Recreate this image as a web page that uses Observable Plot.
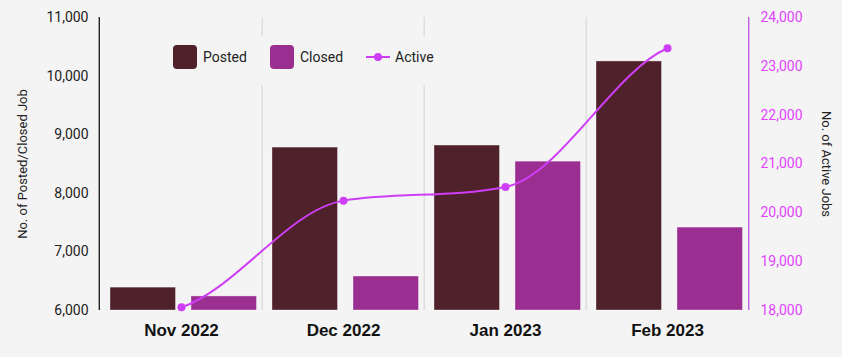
<!DOCTYPE html>
<html>
<head>
<meta charset="utf-8">
<script src="https://cdn.jsdelivr.net/npm/d3@7"></script>
<script src="https://cdn.jsdelivr.net/npm/@observablehq/plot@0.6"></script>
<style>
  html, body { margin: 0; padding: 0; background: #f4f4f4; }
  #wrap { position: relative; width: 842px; height: 357px; background: #f4f4f4; font-family: Roboto, "Liberation Sans", sans-serif; }
  #legend { position: absolute; left: 160px; top: 36px; width: 285px; height: 49px; background: #f4f4f4; }
  .item { position: absolute; top: 9px; height: 24px; display: flex; align-items: center; font-size: 14px; color: #222; }
  .sw { width: 24px; height: 24px; border-radius: 4px; margin-right: 6px; }
</style>
</head>
<body>
<div id="wrap"></div>
<script>
const months = ["Nov 2022", "Dec 2022", "Jan 2023", "Feb 2023"];
const posted = [6390, 8780, 8815, 10250];
const closed = [6240, 6580, 8540, 7415];
const active = [18065, 20250, 20530, 23370];
const leftTicks = [6000, 7000, 8000, 9000, 10000, 11000];
const rightTicks = [18000, 19000, 20000, 21000, 22000, 23000, 24000];

const colPosted = "#4f212a";
const colClosed = "#9b2f91";
const colActive = "#cf3ef7";
const colRightTick = "#df44fb";

const W = 842, H = 357;
const mL = 99, mR = 93, mT = 17, mB = 47;
const bw = (W - mL - mR) / months.length;

const yMin = leftTicks[0], yMax = leftTicks[leftTicks.length - 1];
const rMin = rightTicks[0], rMax = rightTicks[rightTicks.length - 1];
const toLeft = v => yMin + (v - rMin) * (yMax - yMin) / (rMax - rMin);

const data = months.map((m, i) => ({month: m, posted: posted[i], closed: closed[i], active: toLeft(active[i])}));
const fmt = d3.format(",");

// Monotone cubic curve (Fritsch–Carlson) with softened endpoint tangents
function monotoneCurve(context) {
  let pts = [];
  return {
    areaStart() {}, areaEnd() {},
    lineStart() { pts = []; },
    point(x, y) { pts.push([+x, +y]); },
    lineEnd() {
      const n = pts.length;
      if (!n) return;
      context.moveTo(pts[0][0], pts[0][1]);
      if (n === 1) return;
      const d = [], m = new Array(n);
      for (let i = 0; i < n - 1; i++) d.push((pts[i + 1][1] - pts[i][1]) / (pts[i + 1][0] - pts[i][0]));
      m[0] = 0.5 * d[0]; m[n - 1] = 0.5 * d[n - 2];
      for (let i = 1; i < n - 1; i++) m[i] = (d[i - 1] * d[i] <= 0) ? 0 : (d[i - 1] + d[i]) / 2;
      for (let i = 0; i < n - 1; i++) {
        if (Math.abs(d[i]) < 1e-9) { m[i] = 0; m[i + 1] = 0; continue; }
        const a = m[i] / d[i], b = m[i + 1] / d[i], s = a * a + b * b;
        if (s > 9) { const t = 3 / Math.sqrt(s); m[i] = t * a * d[i]; m[i + 1] = t * b * d[i]; }
      }
      for (let i = 0; i < n - 1; i++) {
        const [x0, y0] = pts[i], [x1, y1] = pts[i + 1], h = (x1 - x0) / 3;
        context.bezierCurveTo(x0 + h, y0 + h * m[i], x1 - h, y1 - h * m[i + 1], x1, y1);
      }
    }
  };
}

const chart = Plot.plot({
  width: W, height: H,
  marginLeft: mL, marginRight: mR, marginTop: mT, marginBottom: mB,
  style: {background: "#f4f4f4", fontFamily: "Roboto, 'Liberation Sans', sans-serif", overflow: "visible"},
  x: {type: "band", domain: months, padding: 0},
  y: {domain: [yMin, yMax]},
  marks: [
    Plot.ruleX(months.slice(1), {x: d => d, dx: -bw / 2, stroke: "#dedede", strokeWidth: 1.5}),
    Plot.barY(data, {x: "month", y1: () => yMin, y2: "posted", fill: colPosted, stroke: "#ffffff", strokeOpacity: 0.35, insetLeft: 10, insetRight: bw - 76}),
    Plot.barY(data, {x: "month", y1: () => yMin, y2: "closed", fill: colClosed, stroke: "#ffffff", strokeOpacity: 0.35, insetLeft: 91, insetRight: bw - 157}),
    Plot.ruleX([months[0]], {x: d => d, dx: -bw / 2 - 1, stroke: "#000", strokeWidth: 1.2}),
    Plot.ruleX([months[months.length - 1]], {x: d => d, dx: bw / 2, stroke: "#b845e0", strokeWidth: 1.2}),
    Plot.line(data, {x: "month", y: "active", stroke: colActive, strokeWidth: 2, curve: monotoneCurve}),
    Plot.dot(data, {x: "month", y: "active", r: 4, fill: colActive, stroke: "none"}),
    Plot.axisY({ticks: leftTicks, tickSize: 0, tickPadding: 11, tickFormat: fmt, fontSize: 14, fill: "#222", label: null}),
    Plot.text(rightTicks, {y: d => toLeft(d), text: d => fmt(d), frameAnchor: "right", dx: 11, textAnchor: "start", fill: colRightTick, fontSize: 14}),
    Plot.axisX({tickSize: 0, tickPadding: 13, fontSize: 17, fontWeight: "bold", fontFamily: "'Liberation Sans', Arial, sans-serif", fill: "#111", label: null}),
    Plot.text(["No. of Posted/Closed Job"], {frameAnchor: "left", dx: -77, rotate: -90, fontSize: 13, fill: "#222", textAnchor: "middle"}),
    Plot.text(["No. of Active Jobs"], {frameAnchor: "right", dx: 77, rotate: 90, fontSize: 13, fill: "#222", textAnchor: "middle"})
  ]
});

const wrap = document.getElementById("wrap");
wrap.appendChild(chart);

const legend = document.createElement("div");
legend.id = "legend";
legend.innerHTML = `
  <div class="item" style="left:13px"><div class="sw" style="background:${colPosted}"></div>Posted</div>
  <div class="item" style="left:110px"><div class="sw" style="background:${colClosed}"></div>Closed</div>
  <div class="item" style="left:206px">
    <svg width="24" height="24" style="margin-right:5px"><line x1="0" x2="24" y1="12" y2="12" stroke="${colActive}" stroke-width="2"/><circle cx="12" cy="12" r="4" fill="${colActive}"/></svg>Active</div>`;
wrap.appendChild(legend);
</script>
</body>
</html>
